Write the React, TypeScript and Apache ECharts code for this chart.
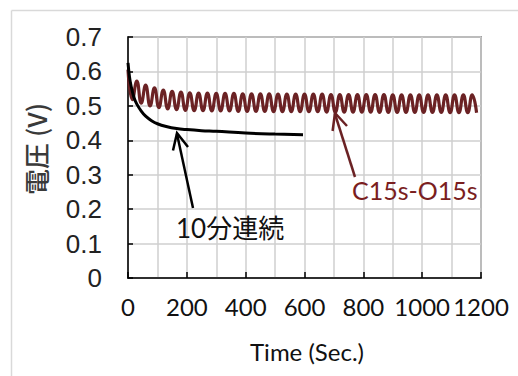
import React, { useEffect, useRef } from "react";
import * as echarts from "echarts";

// Continuous 10-minute run (black)
const contTimes = [0, 5, 10, 20, 30, 45, 60, 80, 100, 130, 165, 200, 250, 300, 400, 500, 595];
const contValues = [0.625, 0.585, 0.56, 0.525, 0.505, 0.485, 0.47, 0.457, 0.448, 0.44, 0.434, 0.431, 0.428, 0.426, 0.421, 0.418, 0.416];

// C15s-O15s cycling (dark red): extrema every 15 s
const cycTimes = [
  0, 15, 30, 45, 60, 75, 90, 105, 120, 135, 150, 165, 180, 195, 210, 225, 240, 255, 270, 285,
  300, 315, 330, 345, 360, 375, 390, 405, 420, 435, 450, 465, 480, 495, 510, 525, 540, 555, 570, 585,
  600, 615, 630, 645, 660, 675, 690, 705, 720, 735, 750, 765, 780, 795, 810, 825, 840, 855, 870, 885,
  900, 915, 930, 945, 960, 975, 990, 1005, 1020, 1035, 1050, 1065, 1080, 1095, 1110, 1125, 1140, 1155, 1170, 1185,
];
const cycValues = [
  0.605, 0.518, 0.572, 0.508, 0.56, 0.5, 0.552, 0.495, 0.546, 0.491, 0.542, 0.489, 0.54, 0.487, 0.538, 0.486, 0.537, 0.486, 0.537, 0.485,
  0.536, 0.485, 0.536, 0.485, 0.536, 0.484, 0.535, 0.484, 0.535, 0.484, 0.535, 0.484, 0.535, 0.483, 0.534, 0.483, 0.534, 0.483, 0.534, 0.483,
  0.534, 0.483, 0.534, 0.483, 0.534, 0.482, 0.533, 0.482, 0.533, 0.482, 0.533, 0.482, 0.533, 0.482, 0.533, 0.482, 0.533, 0.481, 0.533, 0.481,
  0.532, 0.481, 0.532, 0.481, 0.532, 0.481, 0.532, 0.481, 0.532, 0.481, 0.532, 0.481, 0.532, 0.48, 0.532, 0.48, 0.532, 0.48, 0.532, 0.48,
];

const yMin = 0;
const yMax = 0.7;
const yStep = 0.1;
const xMin = 0;
const xMax = 1200;
const xStep = 200;

const contLabel = "10分連続";
const cycLabel = "C15s-O15s";
const xName = "Time (Sec.)";
const yName = "電圧 (V)";

const RED = "#6b2224";
const RED_TEXT = "#7a1e1e";

export default function App() {
  const ref = useRef<HTMLDivElement>(null);
  useEffect(() => {
    if (!ref.current) return;
    const chart = echarts.init(ref.current, null, { renderer: "svg" });
    const pairs = (xs: number[], ys: number[]) => xs.map((x, i) => [x, ys[i]]);
    chart.setOption({
      animation: false,
      backgroundColor: "#ffffff",
      grid: {
        left: 128,
        top: 37,
        right: 37,
        bottom: 98,
        show: true,
        borderColor: "#5a5a5a",
        borderWidth: 1.5,
      },
      xAxis: {
        type: "value",
        min: xMin,
        max: xMax,
        interval: xStep,
        axisLine: { show: true, lineStyle: { color: "#000", width: 1.5 } },
        axisTick: { show: true, inside: true, length: 6, lineStyle: { color: "#000", width: 1.5 } },
        minorTick: { show: false, splitNumber: 2 },
        splitLine: { show: true, lineStyle: { color: "#cfcfcf", width: 1.5 } },
        minorSplitLine: { show: true, lineStyle: { color: "#cfcfcf", width: 1.5 } },
        axisLabel: {
          margin: 16,
          fontSize: 24,
          fontFamily: "Lato",
          color: "#111",
          showMinLabel: true,
          showMaxLabel: true,
          hideOverlap: false,
          formatter: (v: number) => String(Math.round(v)),
        },
      },
      yAxis: {
        type: "value",
        min: yMin,
        max: yMax,
        interval: yStep,
        axisLine: { show: true, lineStyle: { color: "#000", width: 1.5 } },
        axisTick: { show: true, inside: true, length: 5, lineStyle: { color: "#000", width: 1.5 } },
        splitLine: { show: true, lineStyle: { color: "#cfcfcf", width: 1.5 } },
        axisLabel: {
          margin: 26,
          fontSize: 26,
          fontFamily: "Liberation Sans",
          color: "#222",
          formatter: (v: number) => (v === 0 ? "0" : v.toFixed(1)),
        },
      },
      series: [
        {
          type: "line",
          data: pairs(cycTimes, cycValues),
          showSymbol: false,
          smooth: 0.5,
          lineStyle: { color: RED, width: 3.2 },
          z: 3,
        },
        {
          type: "line",
          data: pairs(contTimes, contValues),
          showSymbol: false,
          smooth: 0.4,
          lineStyle: { color: "#000", width: 3 },
          z: 4,
        },
      ],
      graphic: [
        { type: "line", shape: { x1: 11.5, y1: 10.5, x2: 11.5, y2: 376 }, style: { stroke: "#d9d9d9", lineWidth: 1.5 }, silent: true },
        { type: "line", shape: { x1: 11.5, y1: 10.5, x2: 518, y2: 10.5 }, style: { stroke: "#d9d9d9", lineWidth: 1.5 }, silent: true },
        {
          type: "text",
          x: 35,
          y: 149,
          rotation: Math.PI / 2,
          style: {
            text: yName,
            fontSize: 26,
            fontWeight: 500,
            fontFamily: "Noto Sans CJK JP",
            fill: "#3a3a3a",
            align: "center",
            verticalAlign: "middle",
          },
        },
        {
          type: "text",
          x: 307,
          y: 351,
          style: {
            text: xName,
            fontSize: 24,
            fontFamily: "Lato",
            fill: "#111",
            align: "center",
            verticalAlign: "middle",
          },
        },
        // black arrow
        { type: "line", shape: { x1: 193, y1: 208, x2: 177, y2: 134 }, style: { stroke: "#000", lineWidth: 2.5 }, z: 10 },
        { type: "polyline", shape: { points: [[173, 150.5], [177, 133], [188, 147]] }, style: { stroke: "#000", lineWidth: 2.5, fill: null }, z: 10 },
        {
          type: "text",
          x: 176,
          y: 228,
          style: {
            text: contLabel,
            fontSize: 26,
            fontFamily: "Lato, 'Noto Sans CJK JP'",
            fill: "#111",
            align: "left",
            verticalAlign: "middle",
          },
          z: 10,
        },
        // red arrow
        { type: "line", shape: { x1: 355, y1: 177, x2: 335, y2: 114 }, style: { stroke: RED, lineWidth: 2.5 }, z: 10 },
        { type: "polyline", shape: { points: [[332.6, 131], [335, 113], [347, 126]] }, style: { stroke: RED, lineWidth: 2.5, fill: null }, z: 10 },
        {
          type: "text",
          x: 352,
          y: 190,
          style: {
            text: cycLabel,
            fontSize: 25,
            fontFamily: "Lato",
            fill: RED_TEXT,
            align: "left",
            verticalAlign: "middle",
          },
          z: 10,
        },
      ],
    });
    return () => chart.dispose();
  }, []);
  return (
    <div
      ref={ref}
      style={{ position: "fixed", left: 0, top: 0, width: 518, height: 376, background: "#fff" }}
    />
  );
}
